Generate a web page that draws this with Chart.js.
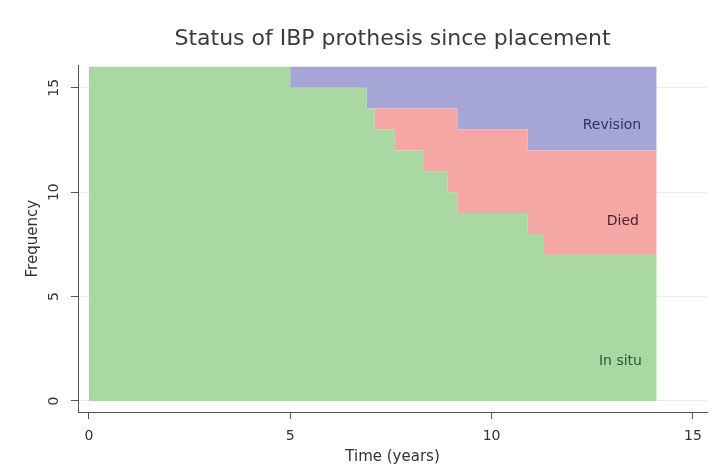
<!DOCTYPE html>
<html>
<head>
<meta charset="utf-8">
<script src="https://cdn.jsdelivr.net/npm/chart.js@4/dist/chart.umd.min.js"></script>
<style>
  html, body { margin: 0; padding: 0; background: #fff; }
  #wrap { width: 717px; height: 469px; }
</style>
</head>
<body>
<div id="wrap"><canvas id="statusChart"></canvas></div>
<script>
// Status counts over time (years since placement)
const times = [0, 5.0, 6.9, 7.1, 7.6, 8.3, 8.9, 9.15, 10.9, 11.3, 14.1];
const inSitu = [16, 15, 14, 13, 12, 11, 10, 9, 8, 7, 7];
const died = [0, 0, 0, 1, 2, 3, 4, 4, 4, 5, 5];
const revision = [0, 1, 2, 2, 2, 2, 2, 3, 4, 4, 4];
const xTicks = [0, 5, 10, 15];
const yTicks = [0, 5, 10, 15];

const toPoints = vals => vals.map((v, i) => ({ x: times[i], y: v }));

const font = "'DejaVu Sans', Verdana, sans-serif";

// area names written inside each band
const bandLabels = {
  id: "bandLabels",
  afterDatasetsDraw(chart) {
    const { ctx, scales: { x, y } } = chart;
    const items = [
      { text: "Revision", at: [12.99, 13.2], color: "#2b3370" },
      { text: "Died", at: [13.26, 8.6], color: "#4d1c26" },
      { text: "In situ", at: [13.2, 1.9], color: "#1f5f2c" },
    ];
    ctx.save();
    ctx.font = "14px " + font;
    ctx.textAlign = "center";
    ctx.textBaseline = "middle";
    items.forEach(it => {
      ctx.fillStyle = it.color;
      ctx.fillText(it.text, x.getPixelForValue(it.at[0]), y.getPixelForValue(it.at[1]));
    });
    ctx.restore();
  },
};

new Chart(document.getElementById("statusChart"), {
  type: "line",
  data: {
    datasets: [
      {
        label: "In situ",
        data: toPoints(inSitu),
        backgroundColor: "#a9d8a3",
        fill: "origin",
      },
      {
        label: "Died",
        data: toPoints(died),
        backgroundColor: "#f5a7a6",
        fill: "-1",
      },
      {
        label: "Revision",
        data: toPoints(revision),
        backgroundColor: "#a5a6d6",
        fill: "-1",
      },
    ],
  },
  options: {
    responsive: true,
    maintainAspectRatio: false,
    animation: false,
    elements: {
      line: { stepped: "before", borderWidth: 0, tension: 0 },
      point: { radius: 0, hoverRadius: 0 },
    },
    layout: { padding: { left: 0, right: 10, top: 0, bottom: 0 } },
    plugins: {
      legend: { display: false },
      tooltip: { enabled: false },
      title: {
        display: true,
        text: "Status of IBP prothesis since placement",
        fullSize: false,
        color: "#3b3b3b",
        font: { family: font, size: 22, weight: "normal" },
        padding: { top: 26, bottom: 13 },
      },
    },
    scales: {
      x: {
        type: "linear",
        min: -0.27,
        max: 15.35,
        afterBuildTicks: axis => { axis.ticks = xTicks.map(v => ({ value: v })); },
        afterFit: axis => { axis.height = 57; },
        border: { color: "#555", width: 1 },
        grid: { drawOnChartArea: false, drawTicks: true, tickLength: 7, color: "#555" },
        ticks: { color: "#333", font: { family: font, size: 14 }, padding: 9, maxRotation: 0 },
        title: {
          display: true,
          text: "Time (years)",
          color: "#333",
          font: { family: font, size: 15 },
          padding: { top: 0, bottom: 3 },
        },
      },
      y: {
        stacked: true,
        min: -0.53,
        max: 16.07,
        afterBuildTicks: axis => { axis.ticks = yTicks.map(v => ({ value: v })); },
        afterFit: axis => { axis.width = 78; },
        border: { color: "#555", width: 1 },
        grid: { color: "#ececec", tickColor: "#555", tickLength: 7 },
        ticks: {
          color: "#333",
          font: { family: font, size: 14 },
          minRotation: 90,
          maxRotation: 90,
          crossAlign: "center",
          padding: 8,
        },
        title: {
          display: true,
          text: "Frequency",
          color: "#333",
          font: { family: font, size: 15 },
          padding: { top: 24, bottom: 0 },
        },
      },
    },
  },
  plugins: [bandLabels],
});
</script>
</body>
</html>
